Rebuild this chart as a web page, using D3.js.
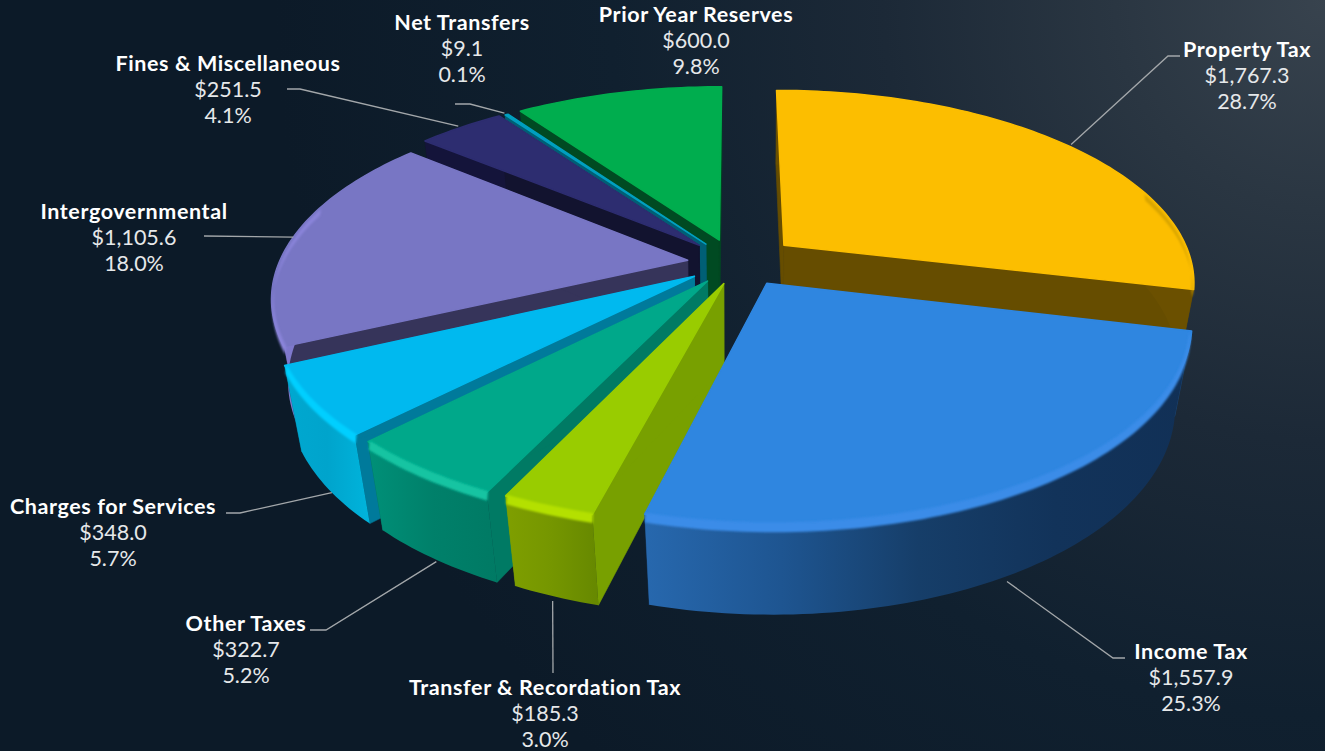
<!DOCTYPE html>
<html>
<head>
<meta charset="utf-8">
<title>General Fund Revenue Sources</title>
<script src="https://cdn.jsdelivr.net/npm/d3@7"></script>
<style>
  html, body { margin: 0; padding: 0; background: #0d1b29; overflow: hidden; }
  svg { display: block; }
  text { font-family: Lato, "Open Sans", sans-serif; text-anchor: middle; }
  .name { font-weight: 700; fill: #ffffff; letter-spacing: 0.6px; }
  .amount { font-weight: 400; fill: #e6e8ea; }
</style>
</head>
<body>
<svg id="chart" width="1325" height="751"></svg>
<script>
// Revenue sources, $ millions, clockwise from twelve o'clock
const categories = ["Property Tax", "Income Tax", "Transfer & Recordation Tax", "Other Taxes",
  "Charges for Services", "Intergovernmental", "Fines & Miscellaneous", "Net Transfers", "Prior Year Reserves"];
const revenue = [1767.3, 1557.9, 185.3, 322.7, 348.0, 1105.6, 251.5, 9.1, 600.0];
const percentLabels = ["28.7%", "25.3%", "3.0%", "5.2%", "5.7%", "18.0%", "4.1%", "0.1%", "9.8%"];

// Slice pull-out from the pie centre, in pie radii, and its swing off the mid-angle in degrees
const explode = [0.155, 0.13, 0.11, 0.115, 0.12, 0.117, 0.13, 0.125, 0.13];
const pullSwing = [0, -5, -6, 0, 0, 0, 0, 0, 0];

// Fill colours: top face, flat side, rim highlight, outer wall stops
const topFill = ["#fcbe00", "#2f86e0", "#99cc00", "#00a88a", "#00b9ef", "#7876c4", "#2d2d70", "#00a0c0", "#00ad4e"];
const sideFill = ["#664d00", "#1a4a80", "#78a000", "#007a64", "#007a9b", "#36345a", "#12132f", "#005f75", "#004a22"];
const rimFill = ["#d8a400", "#3a8ce8", "#b4e000", "#12c4a2", "#00cfff", "#8a84da", "#35357e", "#00c0e0", "#00c060"];
const wallStops = [
  ["#6b5000", "#6b5000"],
  ["#2768ae", "#1e5591", "#163e69", "#12335a", "#113056"],
  ["#7f9f00", "#759600", "#668800"],
  ["#009078", "#00806a", "#007a64"],
  ["#00a8d0", "#00a4cc", "#00b4dc"],
  ["#8079cf", "#7a75c6", "#5e5aa0"],
  ["#14143a", "#14143a"],
  ["#005f75", "#005f75"],
  ["#004a22", "#004a22"]
];

// Label placement: text centre, and optional leader route towards the text
const labelX = [1247, 1191, 545, 246, 113, 134, 228, 462, 696];
const labelY = [50, 652, 688, 624, 507, 212, 64, 23, 15];
const leaderRoutes = [
  [[1168, 56], [1180, 56]],
  [[1113, 658], [1125, 658]],
  [[553, 673]],
  [[326, 630], [310, 630]],
  [[240, 513], [226, 513]],
  [[204, 236]],
  [[300, 89], [287, 89]],
  [[470, 104], [455, 104]],
  null
];
// Where a leader leaves its slice: angle as fraction across the slice, and its gap from the rim
const leaderAt = [0.51, 0.52, 0.5, 0.47, 0.45, 0.5, 0.5, 0.5, 0.5];
const leaderGap = [1.012, 1.0, 1.0, 0.99, 0.985, 1.0, 1.012, 1.012, 1.012];

const width = 1325, height = 751;
const svg = d3.select("#chart");
const defs = svg.append("defs");

const bg = defs.append("radialGradient").attr("id", "backdrop")
  .attr("gradientUnits", "userSpaceOnUse")
  .attr("cx", 1325).attr("cy", 0).attr("r", 1050);
[[0, "#38434e"], [0.2, "#2a3642"], [0.42, "#1c2937"], [0.68, "#10202f"], [1, "#0c1a28"]]
  .forEach(([o, c]) => bg.append("stop").attr("offset", o).attr("stop-color", c));
svg.append("rect").attr("width", width).attr("height", height).attr("fill", "url(#backdrop)");

defs.append("filter").attr("id", "soften").attr("x", "-5%").attr("y", "-5%").attr("width", "110%").attr("height", "110%")
  .append("feGaussianBlur").attr("stdDeviation", 1.2);

// Pinhole view of the pie: X right, Y towards the viewer, Z up (top face at Z = 0)
const camera = { cx: 735, cy: 263, focal: 2003, dist: 4.9, pitch: 27.5 * Math.PI / 180 };
const thickness = 0.232, baseTaper = 0.985;
const s = Math.sin(camera.pitch), c = Math.cos(camera.pitch);
function project(X, Y, Z) {
  const d = camera.dist - Y * c - Z * s;
  return [camera.cx + camera.focal * X / d, camera.cy + camera.focal * (Y * s - Z * c) / d];
}

const pie = d3.pie().sort(null).value(d => d);
const arcs = pie(revenue);
const toPath = d3.line().curve(d3.curveLinear);

// Polar position on a slice, whose apex is pushed out along its pull direction
function slicePoint(i, angle, r, Z) {
  const pull = (arcs[i].startAngle + arcs[i].endAngle) / 2 + pullSwing[i] * Math.PI / 180;
  const ox = Math.sin(pull) * explode[i], oy = -Math.cos(pull) * explode[i];
  return project(ox + r * Math.sin(angle), oy - r * Math.cos(angle), Z);
}
function rimAngles(i) {
  const a0 = arcs[i].startAngle, a1 = arcs[i].endAngle;
  const n = Math.max(4, Math.ceil((a1 - a0) / 0.02));
  return d3.range(n + 1).map(k => a0 + (a1 - a0) * k / n);
}

// Paint from the back of the pie to the front
const paintOrder = [8, 7, 6, 0, 5, 4, 3, 2, 1];
paintOrder.forEach(i => {
  const a0 = arcs[i].startAngle, a1 = arcs[i].endAngle;
  const angles = rimAngles(i);
  const g = svg.append("g").attr("class", "slice");

  const grad = defs.append("linearGradient").attr("id", "wall" + i).attr("x1", 0).attr("x2", 1).attr("y1", 0).attr("y2", 0);
  wallStops[i].forEach((col, k, all) => grad.append("stop").attr("offset", k / (all.length - 1)).attr("stop-color", col));

  // Flat cut faces
  [a0, a1].forEach(a => {
    const face = [slicePoint(i, a, 0, 0), slicePoint(i, a, 1, 0), slicePoint(i, a, baseTaper, -thickness), slicePoint(i, a, 0, -thickness)];
    g.append("path").attr("d", toPath(face) + "Z").attr("fill", sideFill[i])
      .attr("stroke", sideFill[i]).attr("stroke-width", 0.6).attr("stroke-linejoin", "round");
  });

  // Curved outer wall, slightly tapered towards the base
  const wall = angles.map(a => slicePoint(i, a, 1, 0))
    .concat(angles.slice().reverse().map(a => slicePoint(i, a, baseTaper, -thickness)));
  g.append("path").attr("d", toPath(wall) + "Z").attr("fill", `url(#wall${i})`);

  // Top face
  const top = [slicePoint(i, a0, 0, 0)].concat(angles.map(a => slicePoint(i, a, 1, 0)));
  g.append("path").attr("d", toPath(top) + "Z").attr("fill", topFill[i])
    .attr("stroke", topFill[i]).attr("stroke-width", 1.5).attr("stroke-linejoin", "round");

  // Rounded highlight along the visible part of the rim
  const visible = angles.filter(a => -Math.cos(a) > -0.3);
  if (visible.length > 1) {
    const band = visible.map(a => slicePoint(i, a, 0.995, 0))
      .concat(visible.slice().reverse().map(a => slicePoint(i, a, 1, -0.02)));
    g.append("path").attr("d", toPath(band) + "Z").attr("fill", rimFill[i]).attr("filter", "url(#soften)");
  }
});

// Leader lines start on the slice edge and run to the label
const fmtMoney = d3.format("$,.1f");
const labelLayer = svg.append("g").attr("class", "labels");
categories.forEach((name, i) => {
  if (leaderRoutes[i]) {
    const a = arcs[i].startAngle + (arcs[i].endAngle - arcs[i].startAngle) * leaderAt[i];
    const front = -Math.cos(a) > 0.1;
    const start = slicePoint(i, a, leaderGap[i], front ? -thickness : 0);
    labelLayer.append("path").attr("d", toPath([start].concat(leaderRoutes[i])))
      .attr("fill", "none").attr("stroke", "#a3a7aa").attr("stroke-width", 1.3);
  }
  const t = labelLayer.append("g").attr("transform", `translate(${labelX[i]},${labelY[i]})`);
  t.append("text").attr("class", "name").attr("y", 7).attr("font-size", 21.5).text(name);
  t.append("text").attr("class", "amount").attr("y", 33).attr("font-size", 21.5).text(fmtMoney(revenue[i]));
  t.append("text").attr("class", "amount").attr("y", 59).attr("font-size", 21.5).text(percentLabels[i]);
});
</script>
</body>
</html>
